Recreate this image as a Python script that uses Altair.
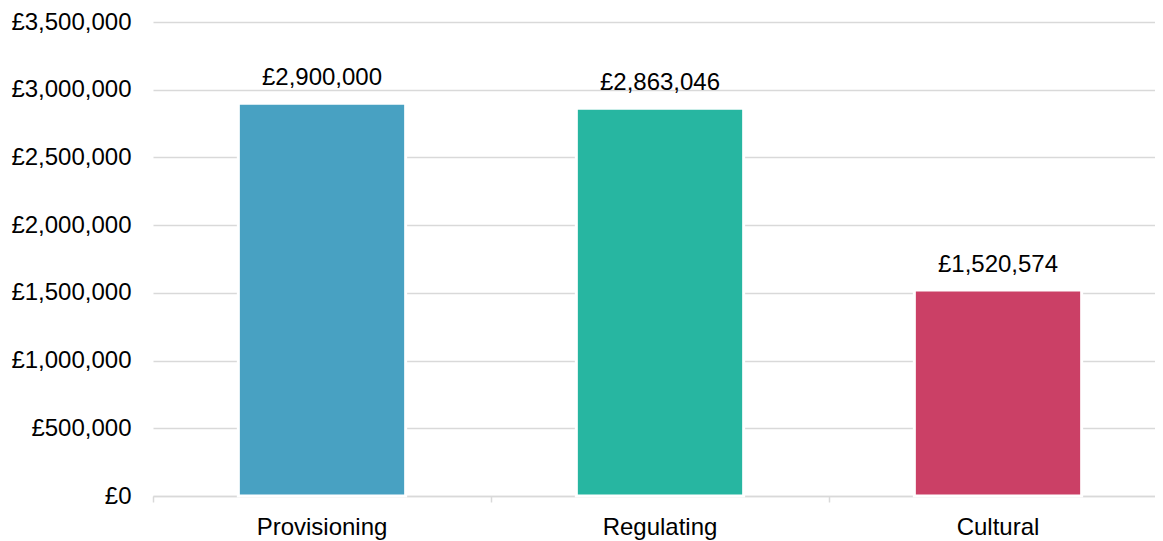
import altair as alt
import pandas as pd

categories = ["Provisioning", "Regulating", "Cultural"]
values = [2900000, 2863046, 1520574]
colors = ["#48A1C2", "#27B6A1", "#CB4066"]

df = pd.DataFrame({"category": categories, "value": values})

x = alt.X("category:N", sort=categories, title=None,
          scale=alt.Scale(paddingInner=0, paddingOuter=0, range=[0, 1014]),
          axis=alt.Axis(labelAngle=0, bandPosition=0, ticks=True, tickSize=6,
                        tickColor="#d9d9d9", domainColor="#d9d9d9", domainWidth=1.5,
                        tickWidth=1.5, labelPadding=13, grid=False))
y = alt.Y("value:Q", title=None,
          scale=alt.Scale(domain=[0, 3500000], nice=False),
          axis=alt.Axis(values=[0, 500000, 1000000, 1500000, 2000000, 2500000, 3000000, 3500000],
                        labelExpr="'£' + format(datum.value, ',.0f')",
                        domain=False, ticks=False, labelPadding=22,
                        gridColor="#d9d9d9", gridWidth=1.5))

bars = alt.Chart(df).mark_bar(width=alt.RelativeBandSize(0.495), stroke="white", strokeWidth=3).encode(
    x=x, y=y,
    color=alt.Color("category:N", scale=alt.Scale(domain=categories, range=colors), legend=None),
)

labels = alt.Chart(df).transform_calculate(
    lbl="'£' + format(datum.value, ',.0f')"
).mark_text(baseline="alphabetic", dy=-18, fontSize=24,
            font="Liberation Sans", color="#000000").encode(
    x=alt.X("category:N", sort=categories),
    y=alt.Y("value:Q"),
    text=alt.Text("lbl:N"),
)

chart = alt.layer(bars, labels).properties(
    width=1002, height=474,
    autosize=alt.AutoSizeParams(type="none"),
    padding={"left": 145, "top": 14, "right": 0, "bottom": 48},
).configure_axis(
    labelFont="Liberation Sans", labelFontSize=24, labelColor="#000000"
).configure_view(stroke=None)

chart.save("out.html", embed_options={"renderer": "svg", "actions": False})
